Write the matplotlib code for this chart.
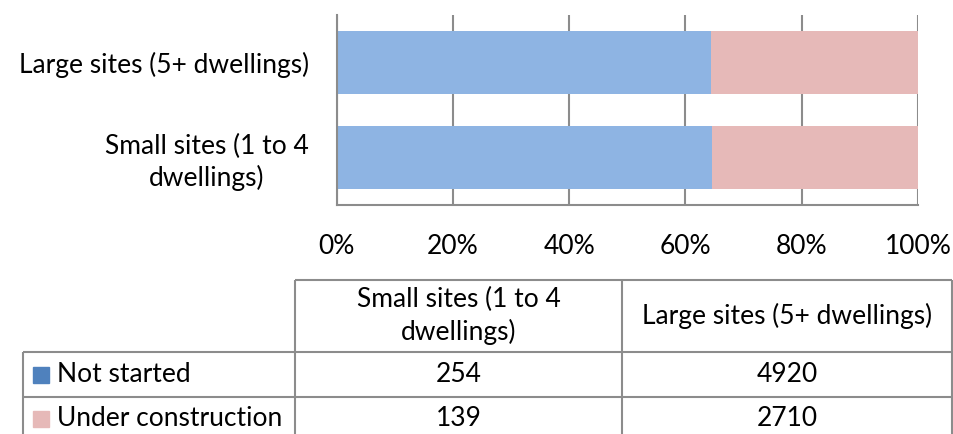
import matplotlib.pyplot as plt
from matplotlib.patches import Rectangle

plt.rcParams["font.family"] = ["Lato", "DejaVu Sans"]

categories = ["Small sites (1 to 4\ndwellings)", "Large sites (5+ dwellings)"]
series = ["Not started", "Under construction"]
not_started = [254, 4920]
under_construction = [139, 2710]
bar_colors = ["#8eb4e3", "#e6b9b8"]
key_colors = ["#4f81bd", "#e6b9b8"]
ticks = [0, 20, 40, 60, 80, 100]
grid_col = "#8c8c8c"
fs = 19

W, H = 954, 434
fig = plt.figure(figsize=(W / 100, H / 100), dpi=100)

# stacked 100% bars
ax = fig.add_axes([336.5 / W, 1 - 205 / H, (918 - 336.5) / W, 190 / H])
totals = [a + b for a, b in zip(not_started, under_construction)]
pct_ns = [100 * a / t for a, t in zip(not_started, totals)]
pct_uc = [100 * b / t for b, t in zip(under_construction, totals)]
ypos = list(range(len(categories)))
ax.barh(ypos, pct_ns, height=0.67, color=bar_colors[0], zorder=2)
ax.barh(ypos, pct_uc, left=pct_ns, height=0.67, color=bar_colors[1], zorder=2)
ax.set_xlim(0, 100)
ax.set_ylim(-0.5, 1.5)
ax.set_xticks(ticks)
ax.set_xticklabels([f"{t}%" for t in ticks], fontsize=fs)
ax.set_yticks(ypos)
ax.set_yticklabels(categories, fontsize=fs, multialignment="center",
                   linespacing=1.25)
ax.tick_params(axis="x", length=0, pad=21)
ax.tick_params(axis="y", length=0, pad=20)
ax.grid(axis="x", color=grid_col, lw=1.5, zorder=1)
for s in ["top", "right"]:
    ax.spines[s].set_visible(False)
for s in ["left", "bottom"]:
    ax.spines[s].set_color(grid_col)
    ax.spines[s].set_linewidth(1.5)

# data table underneath
tb = fig.add_axes([0, 0, 1, 1])
tb.set_xlim(0, W)
tb.set_ylim(H, 0)
tb.axis("off")
cols = [295, 622, 952]
rows = [352, 397, 441]
lk = dict(color=grid_col, lw=1.5, solid_capstyle="butt")
tb.plot([cols[0], cols[-1]], [280, 280], **lk)
for x in cols:
    tb.plot([x, x], [280, rows[-1]], **lk)
tb.plot([23, 23], [rows[0], rows[-1]], **lk)
for y in rows[:2]:
    tb.plot([23, cols[-1]], [y, y], **lk)

for i, cat in enumerate(categories):
    cx = (cols[i] + cols[i + 1]) / 2
    tb.text(cx, 316, cat, ha="center", va="center", fontsize=fs,
            multialignment="center", linespacing=1.3)
    for j, vals in enumerate([not_started, under_construction]):
        cy = (rows[j] + rows[j + 1]) / 2
        tb.text(cx, cy, str(vals[i]), ha="center", va="center", fontsize=fs)

for j, name in enumerate(series):
    cy = (rows[j] + rows[j + 1]) / 2
    tb.add_patch(Rectangle((33, cy - 8), 16, 16, color=key_colors[j]))
    tb.text(57, cy, name, ha="left", va="center", fontsize=fs)

fig.savefig("out.png", dpi=100)
